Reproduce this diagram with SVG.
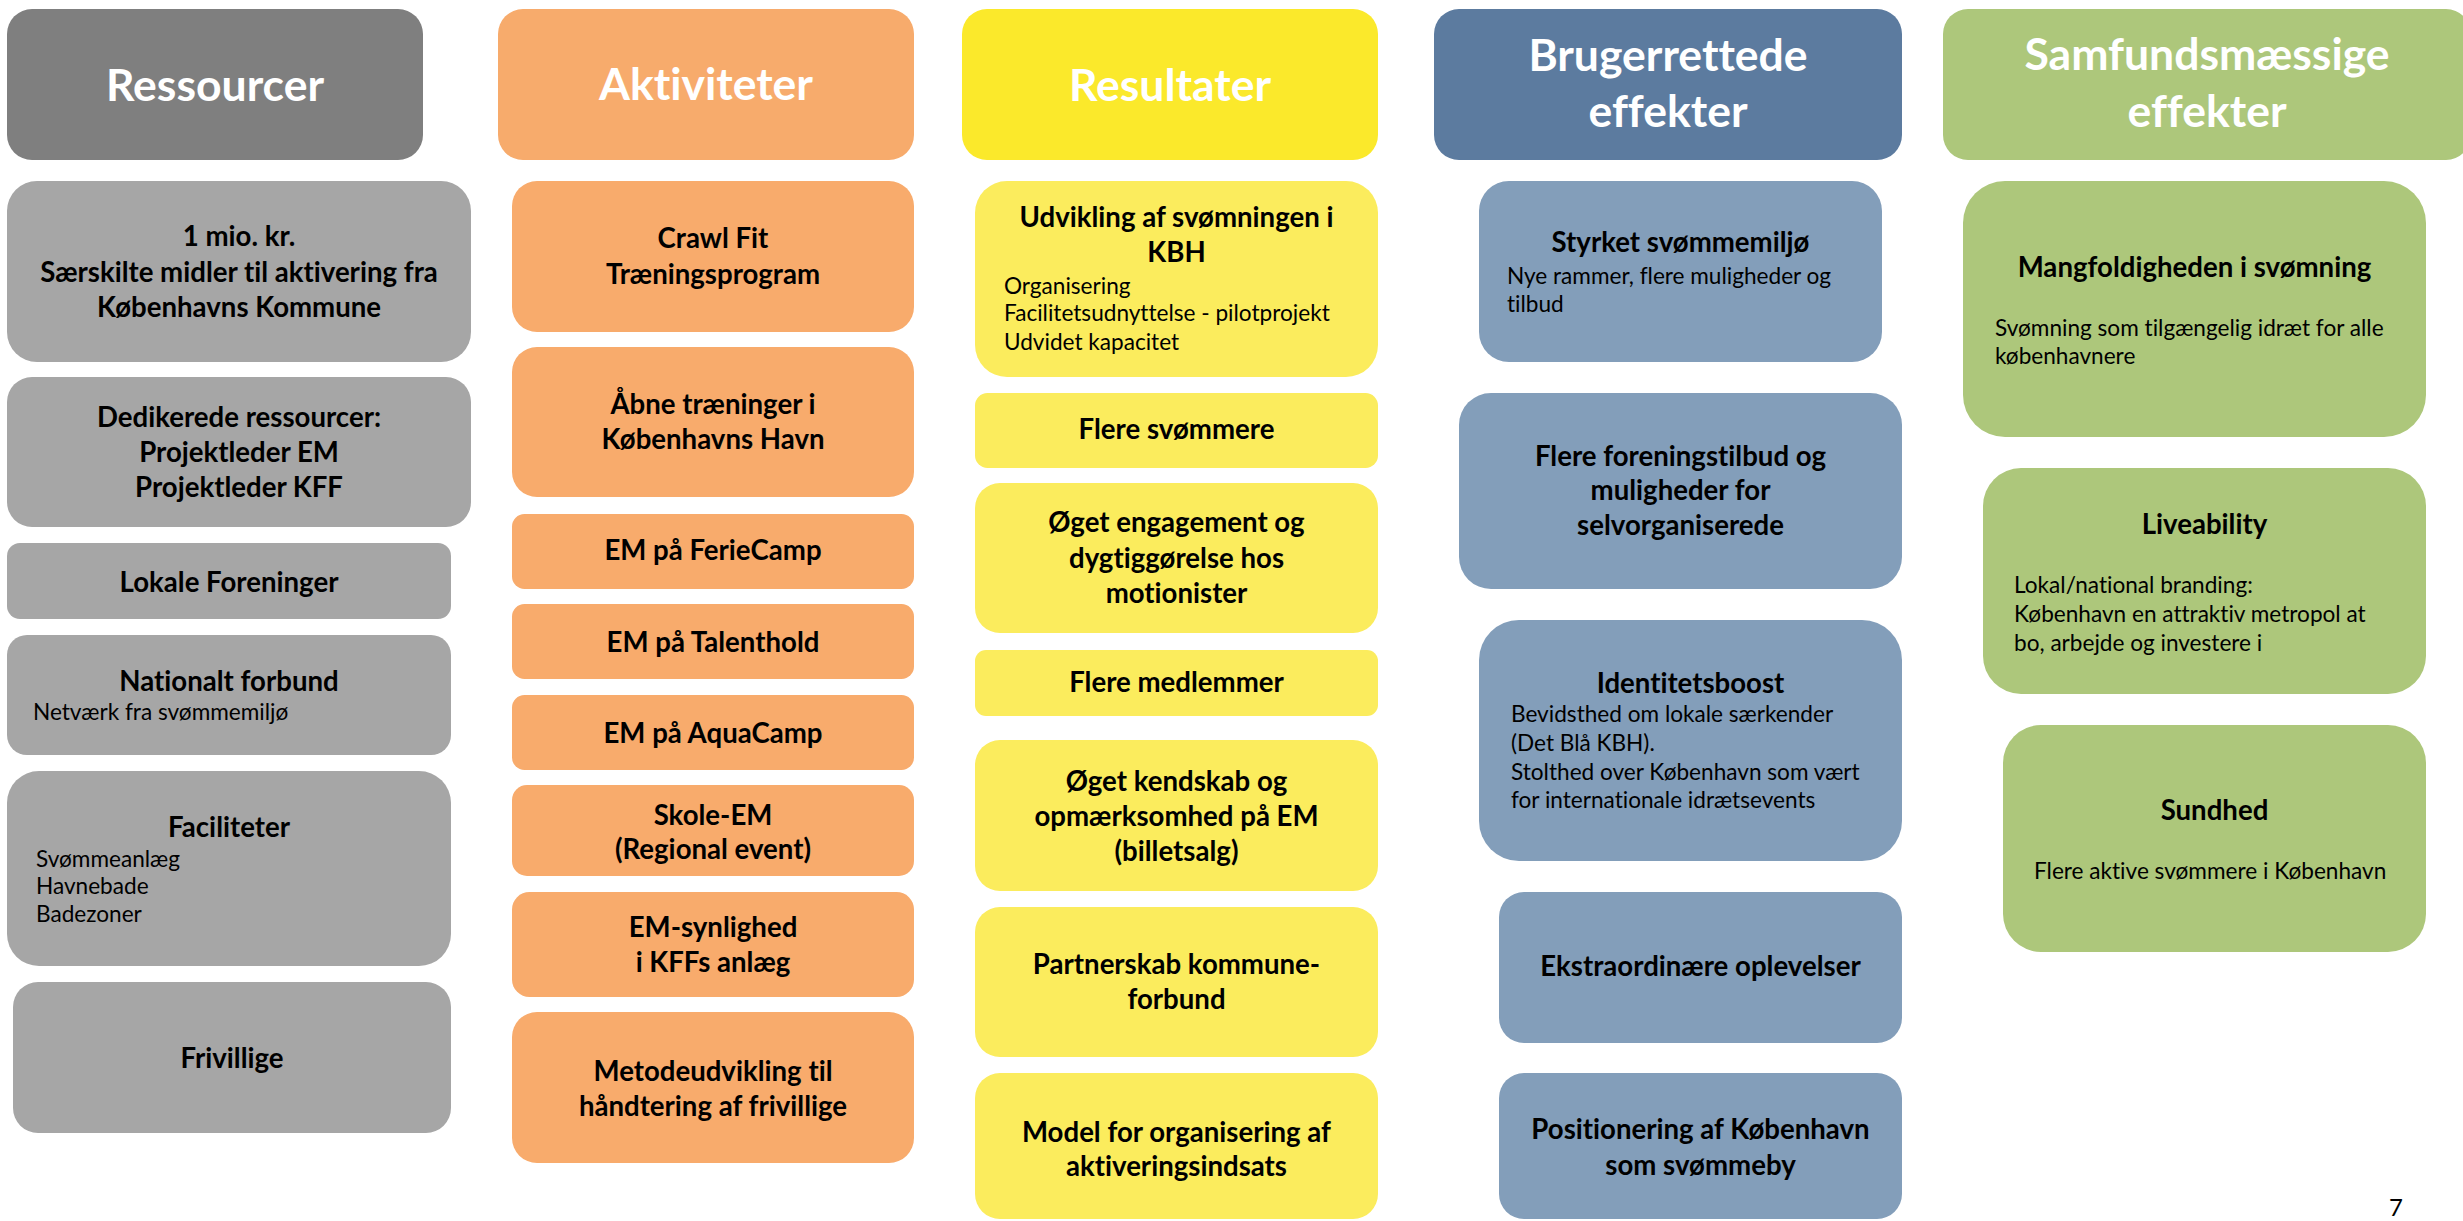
<svg xmlns="http://www.w3.org/2000/svg" width="2463" height="1221" viewBox="0 0 2463 1221">
<style>
text{font-family:Lato,"Open Sans","Liberation Sans",sans-serif;font-variant-ligatures:none;font-feature-settings:"liga" 0,"dlig" 0}
.h{fill:#fff;font-weight:700;font-size:44.5px;text-anchor:middle}
.t{fill:#000;font-weight:700;font-size:27.6px;text-anchor:middle}
.s{fill:#000;font-weight:400;font-size:22.6px}
.g0{fill:#7f7f7f}.g1{fill:#a6a6a6}
.o0{fill:#f7ab6c}.o1{fill:#f8ab6c}
.y0{fill:#fbe92b}.y1{fill:#fbec5d}
.b0{fill:#5c7b9f}.b1{fill:#839eba}
.n0{fill:#adc77b}.n1{fill:#adc77b}
</style>
<rect width="2463" height="1221" fill="#fff"/>
<!-- Column 1 -->
<g id="ressourcer"><rect class="g0" x="7" y="9" width="416" height="151" rx="25"/><text class="h" x="215" y="101">Ressourcer</text></g>
<g id="r1"><rect class="g1" x="7" y="181" width="464" height="181" rx="30"/><text class="t" x="239" y="246">1 mio. kr.</text><text class="t" x="239" y="282">Særskilte midler til aktivering fra</text><text class="t" x="239" y="317">Københavns Kommune</text></g>
<g id="r2"><rect class="g1" x="7" y="377" width="464" height="150" rx="25"/><text class="t" x="239" y="427">Dedikerede ressourcer:</text><text class="t" x="239" y="462">Projektleder EM</text><text class="t" x="239" y="497">Projektleder KFF</text></g>
<g id="r3"><rect class="g1" x="7" y="543" width="444" height="76" rx="13"/><text class="t" x="229" y="592">Lokale Foreninger</text></g>
<g id="r4"><rect class="g1" x="7" y="635" width="444" height="120" rx="20"/><text class="t" x="229" y="691">Nationalt forbund</text><text class="s" x="33" y="720">Netværk fra svømmemiljø</text></g>
<g id="r5"><rect class="g1" x="7" y="771" width="444" height="195" rx="32"/><text class="t" x="229" y="837">Faciliteter</text><text class="s" x="36" y="867">Svømmeanlæg</text><text class="s" x="36" y="894">Havnebade</text><text class="s" x="36" y="922">Badezoner</text></g>
<g id="r6"><rect class="g1" x="13" y="982" width="438" height="151" rx="25"/><text class="t" x="232" y="1068">Frivillige</text></g>
<!-- Column 2 -->
<g id="aktiviteter"><rect class="o0" x="498" y="9" width="416" height="151" rx="25"/><text class="h" x="706" y="100">Aktiviteter</text></g>
<g id="a1"><rect class="o1" x="512" y="181" width="402" height="151" rx="25"/><text class="t" x="713" y="248">Crawl Fit</text><text class="t" x="713" y="284">Træningsprogram</text></g>
<g id="a2"><rect class="o1" x="512" y="347" width="402" height="150" rx="25"/><text class="t" x="713" y="414">Åbne træninger i</text><text class="t" x="713" y="449">Københavns Havn</text></g>
<g id="a3"><rect class="o1" x="512" y="514" width="402" height="75" rx="12.5"/><text class="t" x="713" y="560">EM på FerieCamp</text></g>
<g id="a4"><rect class="o1" x="512" y="604" width="402" height="75" rx="12.5"/><text class="t" x="713" y="652">EM på Talenthold</text></g>
<g id="a5"><rect class="o1" x="512" y="695" width="402" height="75" rx="12.5"/><text class="t" x="713" y="743">EM på AquaCamp</text></g>
<g id="a6"><rect class="o1" x="512" y="785" width="402" height="91" rx="15"/><text class="t" x="713" y="825">Skole-EM</text><text class="t" x="713" y="859">(Regional event)</text></g>
<g id="a7"><rect class="o1" x="512" y="892" width="402" height="105" rx="17.5"/><text class="t" x="713" y="937">EM-synlighed</text><text class="t" x="713" y="972">i KFFs anlæg</text></g>
<g id="a8"><rect class="o1" x="512" y="1012" width="402" height="151" rx="25"/><text class="t" x="713" y="1081">Metodeudvikling til</text><text class="t" x="713" y="1116">håndtering af frivillige</text></g>
<!-- Column 3 -->
<g id="resultater"><rect class="y0" x="962" y="9" width="416" height="151" rx="25"/><text class="h" x="1170" y="101">Resultater</text></g>
<g id="re1"><rect class="y1" x="975" y="181" width="403" height="196" rx="32"/><text class="t" x="1176.5" y="227">Udvikling af svømningen i</text><text class="t" x="1176.5" y="262">KBH</text><text class="s" x="1004" y="294">Organisering</text><text class="s" x="1004" y="321">Facilitetsudnyttelse - pilotprojekt</text><text class="s" x="1004" y="350">Udvidet kapacitet</text></g>
<g id="re2"><rect class="y1" x="975" y="393" width="403" height="75" rx="12.5"/><text class="t" x="1176.5" y="439">Flere svømmere</text></g>
<g id="re3"><rect class="y1" x="975" y="483" width="403" height="150" rx="25"/><text class="t" x="1176.5" y="532">Øget engagement og</text><text class="t" x="1176.5" y="568">dygtiggørelse hos</text><text class="t" x="1176.5" y="603">motionister</text></g>
<g id="re4"><rect class="y1" x="975" y="650" width="403" height="66" rx="11"/><text class="t" x="1176.5" y="692">Flere medlemmer</text></g>
<g id="re5"><rect class="y1" x="975" y="740" width="403" height="151" rx="25"/><text class="t" x="1176.5" y="791">Øget kendskab og</text><text class="t" x="1176.5" y="826">opmærksomhed på EM</text><text class="t" x="1176.5" y="861">(billetsalg)</text></g>
<g id="re6"><rect class="y1" x="975" y="907" width="403" height="150" rx="25"/><text class="t" x="1176.5" y="974">Partnerskab kommune-</text><text class="t" x="1176.5" y="1009">forbund</text></g>
<g id="re7"><rect class="y1" x="975" y="1073" width="403" height="146" rx="25"/><text class="t" x="1176.5" y="1142">Model for organisering af</text><text class="t" x="1176.5" y="1176">aktiveringsindsats</text></g>
<!-- Column 4 -->
<g id="brugerrettede"><rect class="b0" x="1434" y="9" width="468" height="151" rx="25"/><text class="h" x="1668" y="71">Brugerrettede</text><text class="h" x="1668" y="127">effekter</text></g>
<g id="b1"><rect class="b1" x="1479" y="181" width="403" height="181" rx="30"/><text class="t" x="1680.5" y="252">Styrket svømmemiljø</text><text class="s" x="1507" y="284">Nye rammer, flere muligheder og</text><text class="s" x="1507" y="312">tilbud</text></g>
<g id="b2"><rect class="b1" x="1459" y="393" width="443" height="196" rx="32"/><text class="t" x="1680.5" y="466">Flere foreningstilbud og</text><text class="t" x="1680.5" y="500">muligheder for</text><text class="t" x="1680.5" y="535">selvorganiserede</text></g>
<g id="b3"><rect class="b1" x="1479" y="620" width="423" height="241" rx="40"/><text class="t" x="1690.5" y="693">Identitetsboost</text><text class="s" x="1511" y="722">Bevidsthed om lokale særkender</text><text class="s" x="1511" y="751">(Det Blå KBH).</text><text class="s" x="1511" y="780">Stolthed over København som vært</text><text class="s" x="1511" y="808">for internationale idrætsevents</text></g>
<g id="b4"><rect class="b1" x="1499" y="892" width="403" height="151" rx="25"/><text class="t" x="1700.5" y="976">Ekstraordinære oplevelser</text></g>
<g id="b5"><rect class="b1" x="1499" y="1073" width="403" height="146" rx="25"/><text class="t" x="1700.5" y="1139">Positionering af København</text><text class="t" x="1700.5" y="1175">som svømmeby</text></g>
<!-- Column 5 -->
<g id="samfund"><rect class="n0" x="1943" y="9" width="528" height="151" rx="25"/><text class="h" x="2207" y="70">Samfundsmæssige</text><text class="h" x="2207" y="127">effekter</text></g>
<g id="s1"><rect class="n1" x="1963" y="181" width="463" height="256" rx="42"/><text class="t" x="2194.5" y="277">Mangfoldigheden i svømning</text><text class="s" x="1995" y="336">Svømning som tilgængelig idræt for alle</text><text class="s" x="1995" y="364">københavnere</text></g>
<g id="s2"><rect class="n1" x="1983" y="468" width="443" height="226" rx="38"/><text class="t" x="2204.5" y="534">Liveability</text><text class="s" x="2014" y="593">Lokal/national branding:</text><text class="s" x="2014" y="622">København en attraktiv metropol at</text><text class="s" x="2014" y="651">bo, arbejde og investere i</text></g>
<g id="s3"><rect class="n1" x="2003" y="725" width="423" height="227" rx="38"/><text class="t" x="2214.5" y="820">Sundhed</text><text class="s" x="2034" y="879">Flere aktive svømmere i København</text></g>
<text x="2389" y="1216" font-size="24" fill="#000" style="font-family:Lato,sans-serif">7</text>
</svg>
